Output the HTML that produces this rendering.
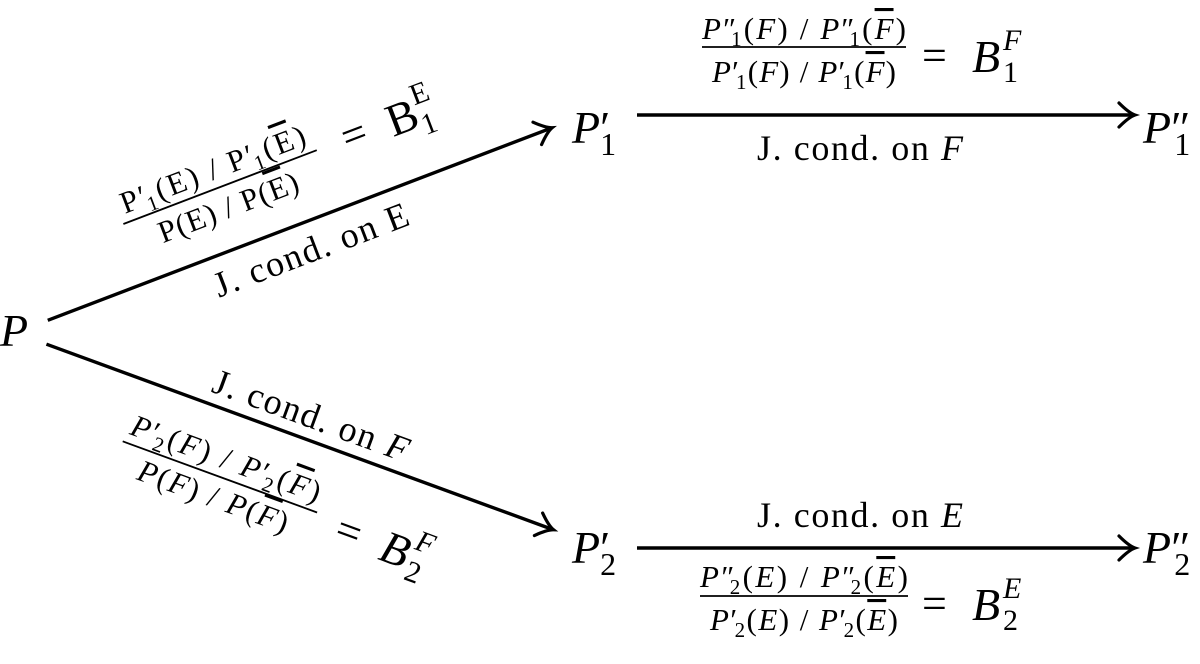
<!DOCTYPE html>
<html><head><meta charset="utf-8"><style>
html,body{margin:0;padding:0;background:#fff;}
svg{display:block;}
text{font-family:"Liberation Serif",serif;fill:#000;}
.i{font-style:italic;}
.ol{text-decoration:overline;}
</style></head><body>
<svg width="1200" height="664" viewBox="0 0 1200 664" xmlns="http://www.w3.org/2000/svg">
<defs>
<path id="ah" d="M-16,-12 Q-6,-2 0,0 Q-6,2 -16,12" fill="none" stroke="#000" stroke-width="3.2" stroke-linecap="round"/>
</defs>

<!-- Nodes -->
<text x="0" y="346" font-size="46" class="i">P</text>
<text x="572" y="143" font-size="46" class="i">P<tspan font-style="normal">′</tspan><tspan font-size="32" font-style="normal" dx="-10" dy="12">1</tspan></text>
<text x="1143" y="143" font-size="46" class="i">P<tspan font-style="normal">″</tspan><tspan font-size="32" font-style="normal" dx="-16" dy="12">1</tspan></text>
<text x="572" y="563" font-size="46" class="i">P<tspan font-style="normal">′</tspan><tspan font-size="32" font-style="normal" dx="-10" dy="12">2</tspan></text>
<text x="1143" y="563" font-size="46" class="i">P<tspan font-style="normal">″</tspan><tspan font-size="32" font-style="normal" dx="-16" dy="12">2</tspan></text>

<!-- Top horizontal arrow -->
<line x1="637" y1="115" x2="1133" y2="115" stroke="#000" stroke-width="3.4"/>
<use href="#ah" x="1135" y="115"/>
<text x="702" y="39" font-size="31" textLength="204" lengthAdjust="spacing"><tspan class="i">P</tspan>″<tspan font-size="21" dx="-7" dy="7">1</tspan><tspan dy="-7">(</tspan><tspan class="i">F</tspan>) / <tspan class="i">P</tspan>″<tspan font-size="21" dx="-7" dy="7">1</tspan><tspan dy="-7">(</tspan><tspan class="i ol">F</tspan>)</text>
<line x1="702" y1="47" x2="906" y2="47" stroke="#000" stroke-width="1.8"/>
<text x="712" y="82" font-size="31" textLength="184" lengthAdjust="spacing"><tspan class="i">P</tspan>′<tspan font-size="21" dx="-4" dy="7">1</tspan><tspan dy="-7">(</tspan><tspan class="i">F</tspan>) / <tspan class="i">P</tspan>′<tspan font-size="21" dx="-4" dy="7">1</tspan><tspan dy="-7">(</tspan><tspan class="i ol">F</tspan>)</text>
<text x="922" y="70" font-size="44">=</text>
<text x="972" y="72" font-size="46" class="i">B</text>
<text x="1003" y="50" font-size="30" class="i">F</text>
<text x="1003" y="82" font-size="30">1</text>
<text x="757" y="160" font-size="36" textLength="206" lengthAdjust="spacing">J. cond. on <tspan class="i">F</tspan></text>

<!-- Bottom horizontal arrow -->
<line x1="637" y1="548" x2="1133" y2="548" stroke="#000" stroke-width="3.4"/>
<use href="#ah" x="1135" y="548"/>
<text x="757" y="527" font-size="36" textLength="206" lengthAdjust="spacing">J. cond. on <tspan class="i">E</tspan></text>
<text x="700" y="587" font-size="31" textLength="208" lengthAdjust="spacing"><tspan class="i">P</tspan>″<tspan font-size="21" dx="-7" dy="7">2</tspan><tspan dy="-7">(</tspan><tspan class="i">E</tspan>) / <tspan class="i">P</tspan>″<tspan font-size="21" dx="-7" dy="7">2</tspan><tspan dy="-7">(</tspan><tspan class="i ol">E</tspan>)</text>
<line x1="700" y1="596" x2="908" y2="596" stroke="#000" stroke-width="1.8"/>
<text x="710" y="630" font-size="31" textLength="188" lengthAdjust="spacing"><tspan class="i">P</tspan>′<tspan font-size="21" dx="-4" dy="7">2</tspan><tspan dy="-7">(</tspan><tspan class="i">E</tspan>) / <tspan class="i">P</tspan>′<tspan font-size="21" dx="-4" dy="7">2</tspan><tspan dy="-7">(</tspan><tspan class="i ol">E</tspan>)</text>
<text x="922" y="618" font-size="44">=</text>
<text x="972" y="620" font-size="46" class="i">B</text>
<text x="1003" y="598" font-size="30" class="i">E</text>
<text x="1003" y="630" font-size="30">2</text>

<!-- Upper diagonal -->
<g transform="translate(300,224) rotate(-20.9)">
<line x1="-270" y1="0" x2="268" y2="0" stroke="#000" stroke-width="3.4"/>
<use href="#ah" x="270" y="0"/>
<text x="-102" y="40" font-size="36" textLength="206" lengthAdjust="spacing">J. cond. on E</text>
<line x1="-165" y1="-63" x2="42" y2="-63" stroke="#000" stroke-width="1.8"/>
<text x="-160" y="-72" font-size="31" textLength="196" lengthAdjust="spacing">P′<tspan font-size="21" dx="-4" dy="7">1</tspan><tspan dy="-7">(E) / P′</tspan><tspan font-size="21" dx="-4" dy="7">1</tspan><tspan dy="-7">(</tspan><tspan class="ol">E</tspan>)</text>
<text x="-135" y="-31" font-size="31" textLength="148" lengthAdjust="spacing">P(E) / P(<tspan class="ol">E</tspan>)</text>
<text x="70" y="-50" font-size="44">=</text>
<text x="118" y="-48" font-size="46">B</text>
<text x="149" y="-70" font-size="30">E</text>
<text x="149" y="-38" font-size="30">1</text>
</g>

<!-- Lower diagonal -->
<g transform="translate(300,437) rotate(20.1)">
<line x1="-270" y1="0" x2="268" y2="0" stroke="#000" stroke-width="3.4"/>
<use href="#ah" x="270" y="0"/>
<text x="-100" y="-12" font-size="36" textLength="206" lengthAdjust="spacing">J. cond. on <tspan class="i">F</tspan></text>
<line x1="-165" y1="65" x2="42" y2="65" stroke="#000" stroke-width="1.8"/>
<text x="-162" y="56" font-size="31" textLength="200" lengthAdjust="spacing"><tspan class="i">P</tspan>′<tspan font-size="21" dx="-4" dy="7">2</tspan><tspan dy="-7">(</tspan><tspan class="i">F</tspan>) / <tspan class="i">P</tspan>′<tspan font-size="21" dx="-4" dy="7">2</tspan><tspan dy="-7">(</tspan><tspan class="i ol">F</tspan>)</text>
<text x="-140" y="96" font-size="31" textLength="158" lengthAdjust="spacing"><tspan class="i">P</tspan>(<tspan class="i">F</tspan>) / <tspan class="i">P</tspan>(<tspan class="i ol">F</tspan>)</text>
<text x="66" y="86" font-size="44">=</text>
<text x="114" y="88" font-size="46" class="i">B</text>
<text x="145" y="66" font-size="30" class="i">F</text>
<text x="145" y="98" font-size="30">2</text>
</g>
</svg>
</body></html>
